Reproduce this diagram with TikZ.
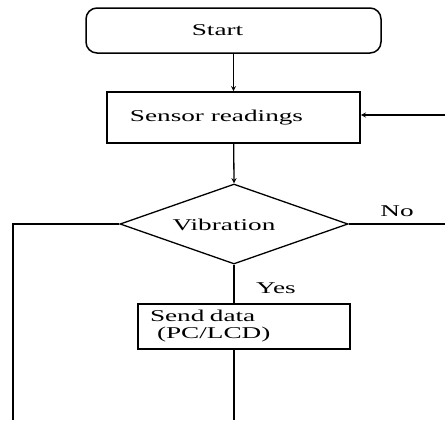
\documentclass[tikz,border=0pt]{standalone}
\usepackage{fontspec}
\setmainfont[FakeStretch=1.65]{Liberation Serif}
\usepackage{tikz}
\usetikzlibrary{arrows,shapes.geometric}

\begin{document}
\begin{tikzpicture}[x=1bp,y=-1bp,
		font=\fontsize{16.5bp}{19bp}\selectfont,
		line width=1.3bp,>=stealth,
		startbox/.style={draw,line width=1.5bp,rounded corners=11bp,minimum width=295bp,minimum height=45bp},
		procbox/.style={draw,line width=1.6bp,inner sep=0pt},
		decision/.style={draw,diamond,minimum width=228bp,minimum height=80bp,inner sep=0pt}]
		\useasboundingbox (0,0) rectangle (445,420);
		\node[startbox,label={[xshift=-16bp]center:Start}] (start) at (233.5,30.5) {};
		\node[procbox,minimum width=253bp,minimum height=51bp,label={[xshift=-17bp]center:Sensor readings}] (sensor) at (233.5,117.5) {};
		\node[decision,label={[xshift=-10bp,yshift=-1bp]center:Vibration}] (vib) at (234,224) {};
		\node[procbox,minimum width=212bp,minimum height=45bp,inner xsep=12bp,text width=188bp,align=left] (send) at (244,326.5) {Send data\\[-2bp]\hspace*{7bp}(PC/LCD)};
		\node (no) at (397,211) {No};
		\node (yes) at (276,288) {Yes};
		\coordinate (lbot) at (13,420);
		\coordinate (rno) at (445,224);
		\coordinate (rback) at (445,115);
		\coordinate (mbot) at (234,420);
		% main flow
		\draw[->] (start) -- (sensor);
		\draw[->] (sensor) -- (vib.north);
		\draw (vib.south) -- (vib.south |- send.north);
		\draw (send.south -| vib.south) -- (mbot);
		% loops
		\draw (vib.west) -| (lbot);
		\draw (vib.east) -- (vib.east -| rno);
		\draw[->] (rback) -- (sensor.east |- rback);
\end{tikzpicture}
\end{document}
